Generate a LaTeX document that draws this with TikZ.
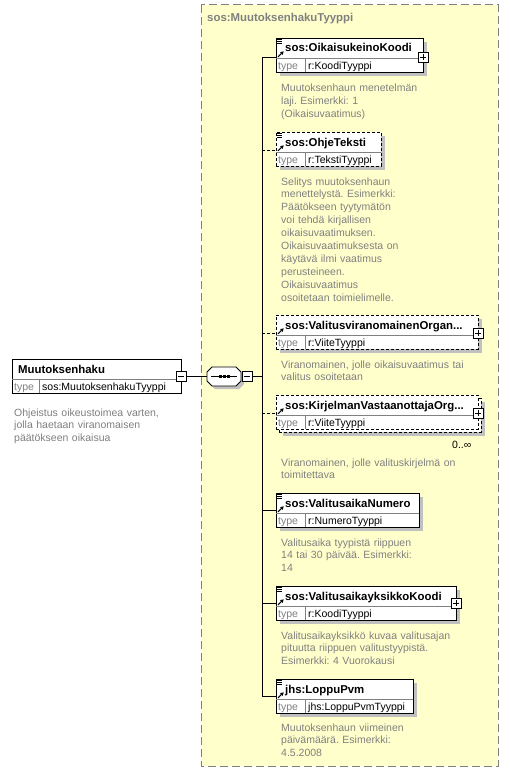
\documentclass[tikz,border=0pt]{standalone}
\usepackage{fontspec}
\setmainfont{Liberation Sans}
\usetikzlibrary{arrows.meta}
\definecolor{ylw}{HTML}{FFFFCC}
\definecolor{gtxt}{HTML}{808080}
\definecolor{shd}{HTML}{C0C0C0}
\frenchspacing
\tikzset{
 elbox/.style={draw, fill=white, line width=0.8pt, inner sep=0pt, outer sep=0pt, minimum height=34pt},
 optdash/.style={dash pattern=on 3pt off 2pt},
 solidln/.style={solid},
 nametxt/.style={anchor=base west, inner sep=0pt, font=\bfseries\fontsize{11.4}{13}\selectfont},
 typetxt/.style={anchor=base west, inner sep=0pt, text=gtxt, font=\fontsize{10.5}{12.9}\selectfont},
 valtxt/.style={anchor=base west, inner sep=0pt, font=\fontsize{10.5}{12.9}\selectfont},
 desctxt/.style={anchor=base west, inner sep=0pt, align=left, text width=215pt, text=gtxt, font=\fontsize{10.5}{12.9}\selectfont},
 pmbox/.style={draw, fill=white, line width=0.8pt, minimum size=10pt, inner sep=0pt, outer sep=0pt},
 conn/.style={line width=0.8pt},
 optconn/.style={line width=0.8pt, dash pattern=on 3pt off 2pt},
}
\newcommand\xshadow[4]{\fill[shd] (#1+#4,#2+#4) rectangle (#1+#3+#4,#2+34+#4);}
\newcommand\xel[7]{%
  \node[elbox,#5,minimum width=#4pt,anchor=north west] (#1) at (#2,#3) {};
  \draw[gtxt,line width=0.8pt] (#2,#3+20) -- (#2+#4,#3+20);
  \draw[gtxt,line width=0.8pt] (#2+29,#3+20) -- (#2+29,#3+34);
  \node[nametxt] (#1n) at (#2+9,#3+14) {#6};
  \node[typetxt] (#1k) at (#2+2,#3+31.5) {type};
  \node[valtxt] (#1v) at (#2+32,#3+31.5) {#7};
}
\newcommand\icolines[2]{\draw[line width=0.8pt] (#1+1.3,#2+1.8) -- (#1+5.8,#2+1.8) (#1+1.3,#2+3.8) -- (#1+5.8,#2+3.8) (#1+1.3,#2+5.8) -- (#1+5.8,#2+5.8);}
\newcommand\icoarrow[2]{\draw[line width=1.1pt,-{Triangle[length=3pt,width=3.6pt]}] (#1+2,#2+18.8) -- (#1+7.6,#2+13.4);}
\newcommand\plusbox[3]{\node[pmbox] (#1) at (#2,#3) {};
  \draw[line width=0.8pt] ([xshift=2pt]#1.west) -- ([xshift=-2pt]#1.east) ([yshift=2pt]#1.south) -- ([yshift=-2pt]#1.north);}
\newcommand\minusbox[3]{\node[pmbox] (#1) at (#2,#3) {};
  \draw[line width=0.8pt] ([xshift=2pt]#1.west) -- ([xshift=-2pt]#1.east);}
\begin{document}
\begin{tikzpicture}[x=1pt,y=-1pt]
\useasboundingbox (0,0) rectangle (509,776);
\fill[white] (0,0) rectangle (509,776);
% group box
\draw[gtxt, fill=ylw, line width=1pt, dash pattern=on 8pt off 4pt] (201,5) rectangle (498,766);
\node[nametxt, text=gtxt] (grpt) at (207,22) {sos:MuutoksenhakuTyyppi};

% root element
\node[elbox,minimum width=169pt,anchor=north west] (root) at (12,359) {};
\draw[gtxt,line width=0.8pt] (12,379) -- (181,379);
\draw[gtxt,line width=0.8pt] (39,379) -- (39,393);
\node[nametxt] (rootn) at (18,373) {Muutoksenhaku};
\node[typetxt] (rootk) at (14,390.5) {type};
\node[valtxt] (rootv) at (42,390.5) {sos:MuutoksenhakuTyyppi};
\minusbox{rootm}{181}{376.5}
\node[desctxt] (rootd) at (14,416) {Ohjeistus oikeustoimea varten,\\jolla haetaan viranomaisen\\päätökseen oikaisua};

% sequence compositor
\fill[shd] (215,370) -- (239,370) -- (244,375) -- (244,384) -- (239,389) -- (215,389) -- (210,384) -- (210,375) -- cycle;
\node[minimum width=34pt, minimum height=19pt, inner sep=0pt, outer sep=0pt] (seq) at (224,376.5) {};
\draw[line width=0.8pt, fill=white] (212,367) -- (236,367) -- (241,372) -- (241,381) -- (236,386) -- (212,386) -- (207,381) -- (207,372) -- cycle;
\draw[line width=0.8pt] (211,376.5) -- (237,376.5);
\foreach \dx in {218.5,222.5,226.5} \fill (\dx,375) rectangle ++(3,3);
\minusbox{seqm}{247}{376.5}
\coordinate (jc) at (262,376.5);

% elements
\xshadow{276}{38}{147}{4}
\xel{e1}{276}{38}{147}{solidln}{sos:OikaisukeinoKoodi}{r:KoodiTyyppi}
\icolines{276}{38}\icoarrow{276}{38}
\plusbox{e1p}{423}{57}
\node[desctxt] (d1) at (281,92) {Muutoksenhaun menetelmän\\laji. Esimerkki: 1\\(Oikaisuvaatimus)};

\xshadow{276}{132}{105}{4}
\xel{e2}{276}{132}{105}{optdash}{sos:OhjeTeksti}{r:TekstiTyyppi}
\icolines{276}{132}\icoarrow{276}{132}
\node[desctxt] (d2) at (281,185) {Selitys muutoksenhaun\\menettelystä. Esimerkki:\\Päätökseen tyytymätön\\voi tehdä kirjallisen\\oikaisuvaatimuksen.\\Oikaisuvaatimuksesta on\\käytävä ilmi vaatimus\\perusteineen.\\Oikaisuvaatimus\\osoitetaan toimielimelle.};

\xshadow{276}{315}{202}{4}
\xel{e3}{276}{315}{202}{optdash}{sos:ValitusviranomainenOrgan...}{r:ViiteTyyppi}
\icoarrow{276}{315}
\plusbox{e3p}{478}{333}
\node[desctxt] (d3) at (281,368) {Viranomainen, jolle oikaisuvaatimus tai\\valitus osoitetaan};

\xshadow{276}{395}{202}{7}
\node[elbox,optdash,minimum width=202pt,anchor=north west] (e4b) at (279,398) {};
\xel{e4}{276}{395}{202}{optdash}{sos:KirjelmanVastaanottajaOrg...}{r:ViiteTyyppi}
\icoarrow{276}{395}
\plusbox{e4p}{478}{413}
\node[valtxt] (occ) at (452,448) {0..∞};
\node[desctxt] (d4) at (281,466) {Viranomainen, jolle valituskirjelmä on\\toimitettava};

\xshadow{276}{493}{143}{4}
\xel{e5}{276}{493}{143}{solidln}{sos:ValitusaikaNumero}{r:NumeroTyyppi}
\icolines{276}{493}\icoarrow{276}{493}
\node[desctxt] (d5) at (281,546) {Valitusaika tyypistä riippuen\\14 tai 30 päivää. Esimerkki:\\14};

\xshadow{276}{586}{180}{4}
\xel{e6}{276}{586}{180}{solidln}{sos:ValitusaikayksikkoKoodi}{r:KoodiTyyppi}
\icolines{276}{586}\icoarrow{276}{586}
\plusbox{e6p}{456}{603}
\node[desctxt] (d6) at (281,639) {Valitusaikayksikkö kuvaa valitusajan\\pituutta riippuen valitustyypistä.\\Esimerkki: 4 Vuorokausi};

\xshadow{276}{679}{137}{4}
\xel{e7}{276}{679}{137}{solidln}{jhs:LoppuPvm}{jhs:LoppuPvmTyyppi}
\icolines{276}{679}\icoarrow{276}{679}
\node[desctxt] (d7) at (281,731) {Muutoksenhaun viimeinen\\päivämäärä. Esimerkki:\\4.5.2008};

% connectors
\coordinate (j1) at (262,57);
\coordinate (j2) at (262,150);
\coordinate (j3) at (262,333);
\coordinate (j4) at (262,413);
\coordinate (j5) at (262,510);
\coordinate (j6) at (262,603);
\coordinate (j7) at (262,696);
\draw[conn] (rootm.east) -- (seq.west);
\draw[conn] (seqm.east) -- (jc);
\draw[conn] (j1) -- (j7);
\draw[conn] (j1) -- (j1 -| e1.west);
\draw[optconn] (j2) -- (j2 -| e2.west);
\draw[optconn] (j3) -- (j3 -| e3.west);
\draw[optconn] (j4) -- (j4 -| e4.west);
\draw[conn] (j5) -- (j5 -| e5.west);
\draw[conn] (j6) -- (j6 -| e6.west);
\draw[conn] (j7) -- (j7 -| e7.west);
\end{tikzpicture}
\end{document}
